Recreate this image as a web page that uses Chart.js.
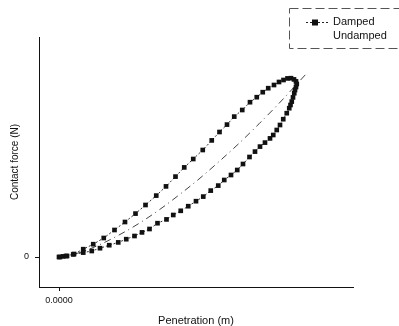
<!DOCTYPE html>
<html>
<head>
<meta charset="utf-8">
<script src="https://cdn.jsdelivr.net/npm/chart.js@4.4.1/dist/chart.umd.min.js"></script>
<style>
  html, body { margin: 0; padding: 0; background: #fff; }
</style>
</head>
<body>
<canvas id="forceChart" width="399" height="326"></canvas>
<script>
// contact force vs penetration, loading / unloading loop
const dampedPen = [
  0, 0.000016, 0.000032, 0.000060, 0.000097, 0.000137, 0.000179, 0.000222, 0.000264,
  0.000306, 0.000346, 0.000389, 0.000428, 0.000466, 0.000501, 0.000537, 0.000575,
  0.000611, 0.000642, 0.000672, 0.000701, 0.000733, 0.000764, 0.000791, 0.000815,
  0.000837, 0.000860, 0.000880, 0.000898, 0.000914, 0.000928, 0.000940, 0.000948,
  0.000951, 0.000948, 0.000944, 0.000941, 0.000936, 0.000931, 0.000926, 0.000921,
  0.000911, 0.000897, 0.000884, 0.000871, 0.000857, 0.000844, 0.000824, 0.000804,
  0.000784, 0.000762, 0.000736, 0.000713, 0.000688, 0.000661, 0.000637, 0.000607,
  0.000577, 0.000548, 0.000517, 0.000487, 0.000457, 0.000430, 0.000394, 0.000362,
  0.000332, 0.000302, 0.000269, 0.000237, 0.000201, 0.000164, 0.000131, 0.000097,
  0.000057, 0.000028, 0.000004
];
const dampedForce = [
  0, 3, 5, 15, 39, 64, 95, 135, 175,
  217, 260, 307, 353, 402, 448, 490, 535,
  583, 625, 662, 702, 735, 774, 799, 824,
  844, 860, 875, 885, 893, 894, 888, 878,
  865, 850, 835, 819, 798, 777, 760, 744,
  719, 689, 660, 635, 610, 593, 572, 552,
  527, 500, 465, 435, 410, 385, 357, 332,
  302, 279, 254, 231, 210, 188, 169, 140,
  123, 105, 89, 73, 59, 44, 30, 22,
  13, 5, 0
];
const undampedPen = [
  0, 0.00008, 0.00016, 0.00024, 0.00032, 0.00040, 0.00048,
  0.00056, 0.00064, 0.00072, 0.00080, 0.00088, 0.000992
];
const undampedForce = [
  0, 21, 60, 110, 168, 235, 310,
  390, 477, 568, 666, 768, 920
];
const xTickLabels = ['0.0000'];
const yTickLabels = ['0'];

const FONT = '"Liberation Sans", Arial, sans-serif';

function pairs(xs, ys) {
  return xs.map((x, i) => ({ x: x, y: ys[i] }));
}

// dashed box legend in the top right corner
const boxLegend = {
  id: 'boxLegend',
  afterDraw(chart) {
    const ctx = chart.ctx;
    const damped = chart.data.datasets[0];
    ctx.save();
    ctx.strokeStyle = '#555';
    ctx.lineWidth = 1;
    ctx.setLineDash([9, 4]);
    ctx.strokeRect(289.5, 8.5, 112, 40);

    // damped sample: dashed line with a square marker
    ctx.strokeStyle = '#222';
    ctx.setLineDash([2, 2]);
    ctx.beginPath();
    ctx.moveTo(306, 22.5);
    ctx.lineTo(330, 22.5);
    ctx.stroke();
    ctx.setLineDash([]);
    ctx.fillStyle = damped.pointBackgroundColor;
    ctx.fillRect(312, 19.5, 6, 6);

    ctx.fillStyle = '#111';
    ctx.font = '11px ' + FONT;
    ctx.textBaseline = 'middle';
    ctx.textAlign = 'left';
    ctx.fillText(damped.label, 333, 22);
    ctx.fillText(chart.data.datasets[1].label, 333, 36);
    ctx.restore();
  }
};

new Chart(document.getElementById('forceChart'), {
  type: 'scatter',
  data: {
    datasets: [{
      label: 'Damped',
      data: pairs(dampedPen, dampedForce),
      showLine: true,
      borderColor: '#333',
      borderWidth: 1,
      borderDash: [2, 2],
      pointStyle: 'rect',
      pointRadius: 3.3,
      pointBackgroundColor: '#111',
      pointBorderColor: '#111',
      pointBorderWidth: 0,
      tension: 0
    }, {
      label: 'Undamped',
      data: pairs(undampedPen, undampedForce),
      showLine: true,
      borderColor: '#444',
      borderWidth: 1,
      borderDash: [7, 4, 1, 4],
      pointRadius: 0,
      cubicInterpolationMode: 'monotone'
    }]
  },
  options: {
    responsive: false,
    animation: false,
    layout: { padding: { left: 0, top: 37, right: 46, bottom: 0 } },
    plugins: {
      legend: { display: false },
      tooltip: { enabled: false }
    },
    scales: {
      x: {
        type: 'linear',
        min: -0.00008,
        max: 0.001176,
        afterFit: s => { s.height = 39; },
        afterBuildTicks: s => { s.ticks = [{ value: 0 }]; },
        border: { color: '#111', width: 1 },
        grid: { drawOnChartArea: false, tickLength: 4, color: '#111' },
        ticks: {
          padding: 4,
          color: '#111',
          font: { family: FONT, size: 9 },
          callback: (v, i) => xTickLabels[i]
        },
        title: {
          display: true,
          text: 'Penetration (m)',
          color: '#111',
          font: { family: FONT, size: 11 },
          padding: { top: 0, bottom: -2 }
        }
      },
      y: {
        type: 'linear',
        min: -150,
        max: 1100,
        afterFit: s => { s.width = 39; },
        afterBuildTicks: s => { s.ticks = [{ value: 0 }]; },
        border: { color: '#111', width: 1 },
        grid: { drawOnChartArea: false, tickLength: 4, color: '#111' },
        ticks: {
          padding: 6,
          color: '#111',
          font: { family: FONT, size: 9 },
          callback: (v, i) => yTickLabels[i]
        },
        title: {
          display: true,
          text: 'Contact force (N)',
          color: '#111',
          font: { family: FONT, size: 10 },
          padding: { top: 9, bottom: 0 }
        }
      }
    }
  },
  plugins: [boxLegend]
});
</script>
</body>
</html>
